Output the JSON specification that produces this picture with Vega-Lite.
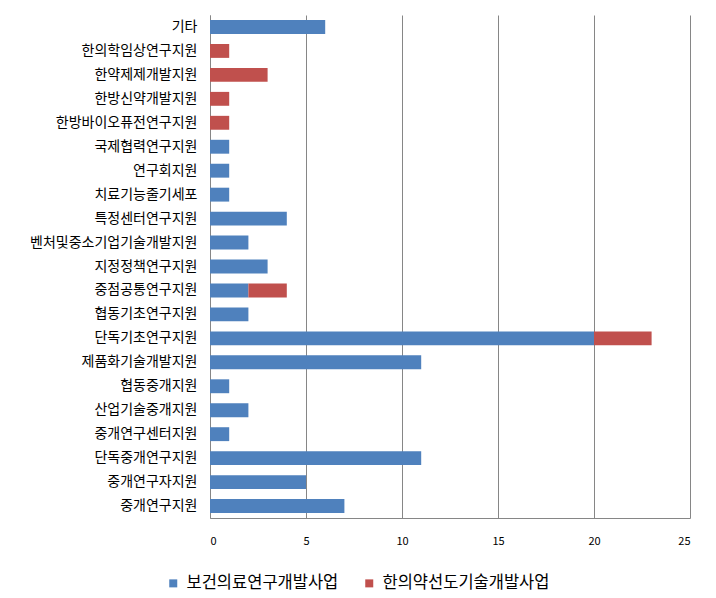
{
  "$schema": "https://vega.github.io/schema/vega-lite/v6.json",
  "width": 480,
  "height": 503,
  "autosize": {"type": "none"},
  "padding": {"left": 210, "top": 15, "right": 26, "bottom": 80},
  "background": "white",
  "config": {
    "view": {"stroke": null},
    "font": "Noto Sans CJK KR"
  },
  "data": {
    "values": [
      {"category": "기타", "series": "보건의료연구개발사업", "value": 6},
      {"category": "한의학임상연구지원", "series": "한의약선도기술개발사업", "value": 1},
      {"category": "한약제제개발지원", "series": "한의약선도기술개발사업", "value": 3},
      {"category": "한방신약개발지원", "series": "한의약선도기술개발사업", "value": 1},
      {"category": "한방바이오퓨전연구지원", "series": "한의약선도기술개발사업", "value": 1},
      {"category": "국제협력연구지원", "series": "보건의료연구개발사업", "value": 1},
      {"category": "연구회지원", "series": "보건의료연구개발사업", "value": 1},
      {"category": "치료기능줄기세포", "series": "보건의료연구개발사업", "value": 1},
      {"category": "특정센터연구지원", "series": "보건의료연구개발사업", "value": 4},
      {"category": "벤처및중소기업기술개발지원", "series": "보건의료연구개발사업", "value": 2},
      {"category": "지정정책연구지원", "series": "보건의료연구개발사업", "value": 3},
      {"category": "중점공통연구지원", "series": "보건의료연구개발사업", "value": 2},
      {"category": "중점공통연구지원", "series": "한의약선도기술개발사업", "value": 2},
      {"category": "협동기초연구지원", "series": "보건의료연구개발사업", "value": 2},
      {"category": "단독기초연구지원", "series": "보건의료연구개발사업", "value": 20},
      {"category": "단독기초연구지원", "series": "한의약선도기술개발사업", "value": 3},
      {"category": "제품화기술개발지원", "series": "보건의료연구개발사업", "value": 11},
      {"category": "협동중개지원", "series": "보건의료연구개발사업", "value": 1},
      {"category": "산업기술중개지원", "series": "보건의료연구개발사업", "value": 2},
      {"category": "중개연구센터지원", "series": "보건의료연구개발사업", "value": 1},
      {"category": "단독중개연구지원", "series": "보건의료연구개발사업", "value": 11},
      {"category": "중개연구자지원", "series": "보건의료연구개발사업", "value": 5},
      {"category": "중개연구지원", "series": "보건의료연구개발사업", "value": 7}
    ]
  },
  "mark": {"type": "bar"},
  "encoding": {
    "y": {
      "field": "category",
      "type": "nominal",
      "sort": null,
      "scale": {"paddingInner": 0.42, "paddingOuter": 0.21},
      "axis": {
        "title": null,
        "ticks": false,
        "domainColor": "#868686",
        "labelFontSize": 14,
        "labelColor": "#000000",
        "labelPadding": 13,
        "labelLimit": 300
      }
    },
    "x": {
      "field": "value",
      "type": "quantitative",
      "stack": "zero",
      "scale": {"domain": [0, 25]},
      "axis": {
        "title": null,
        "values": [0, 5, 10, 15, 20, 25],
        "ticks": false,
        "grid": true,
        "gridColor": "#868686",
        "domainColor": "#868686",
        "labelFontSize": 11,
        "labelColor": "#000000",
        "labelPadding": 17
      }
    },
    "color": {
      "field": "series",
      "type": "nominal",
      "scale": {
        "domain": ["보건의료연구개발사업", "한의약선도기술개발사업"],
        "range": ["#4F81BD", "#C0504D"]
      },
      "legend": {
        "title": null,
        "orient": "none",
        "direction": "horizontal",
        "legendX": -45,
        "legendY": 560,
        "symbolType": "square",
        "symbolSize": 64,
        "labelFontSize": 16.5,
        "labelLimit": 400,
        "labelColor": "#000000",
        "columnPadding": 22,
        "labelOffset": 5
      }
    }
  }
}
